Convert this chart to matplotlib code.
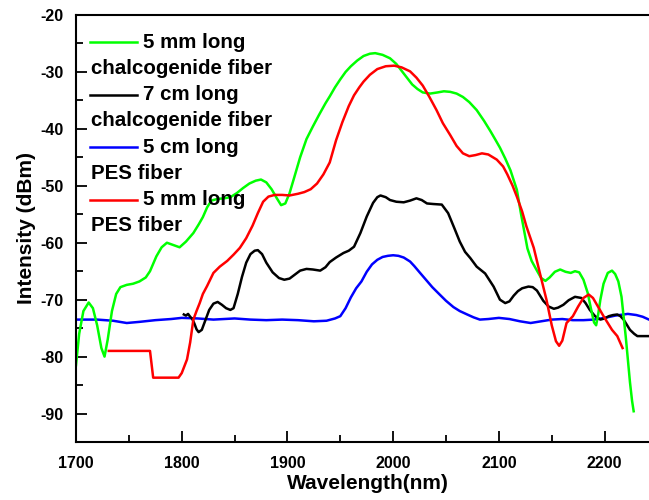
import matplotlib
matplotlib.use("Agg")
import matplotlib.pyplot as plt

# 5 mm long chalcogenide fiber (green)
wl_green = [1700, 1703, 1707, 1712, 1716, 1720, 1724, 1727, 1730, 1734, 1738, 1742,
            1748, 1754, 1760, 1766, 1770, 1776, 1781, 1786, 1792, 1798, 1804, 1811,
            1816, 1820, 1824, 1828, 1834, 1840, 1846, 1852, 1858, 1864, 1870, 1875,
            1880, 1885, 1890, 1894, 1898, 1902, 1906, 1912, 1918, 1924, 1930, 1936,
            1940, 1945, 1950, 1955, 1960, 1966, 1972, 1978, 1983, 1990, 1997, 2003,
            2008, 2013, 2018, 2023, 2028, 2035, 2042, 2048, 2054, 2060, 2066, 2072,
            2079, 2086, 2092, 2097, 2101, 2106, 2111, 2117, 2121, 2124, 2127, 2131,
            2136, 2140, 2144, 2148, 2153, 2158, 2163, 2168, 2172, 2176, 2180, 2184,
            2187, 2190, 2192, 2194, 2196, 2199, 2203, 2207, 2210, 2213, 2216, 2218,
            2220, 2222, 2224, 2226, 2227.5]
int_green = [-81.5, -76, -72, -70.5, -71.5, -74.5, -78.5, -80, -77, -72, -69, -67.8,
             -67.4, -67.2, -66.8, -66.1, -65, -62.4, -60.8, -60, -60.4, -60.8, -59.8, -58.3,
             -56.8, -55.5, -53.8, -52.6, -52.3, -52.2, -52, -51.3, -50.4, -49.6, -49.1, -48.9,
             -49.4, -50.6, -52.2, -53.4, -53.1, -51.3, -48.8, -45, -41.8, -39.6, -37.5, -35.5,
             -34.3, -32.7, -31.3, -30, -29, -28, -27.2, -26.8, -26.7, -27, -27.6, -28.6,
             -29.8, -31, -32.2, -33, -33.6, -33.8, -33.6, -33.4, -33.5, -33.8, -34.4, -35.3,
             -36.7, -38.6, -40.4, -42, -43.3, -45.2, -47.3, -50.7, -55, -58, -61, -63.2,
             -64.9, -66.2, -66.7, -66.1, -65.1, -64.7, -65.1, -65.3, -65, -65.2, -66.5, -68.8,
             -71.5, -74, -74.5, -72.5, -70, -67.2, -65.3, -64.9, -65.5, -66.8, -69.5, -73,
             -76.5, -80.5, -84.5, -87.8, -89.6]

# 7 cm long chalcogenide fiber (black)
wl_black = [1802, 1804, 1806, 1808, 1810, 1812, 1814, 1816, 1819, 1822, 1826, 1830,
            1834, 1838, 1842, 1846, 1849, 1853, 1857, 1861, 1865, 1869, 1872, 1876,
            1880, 1886, 1892, 1897, 1902, 1907, 1912, 1918, 1924, 1931, 1936, 1940,
            1946, 1953, 1958, 1963, 1969, 1975, 1981, 1985, 1988, 1993, 1997, 2003,
            2010, 2016, 2022, 2027, 2032, 2038, 2046, 2052, 2058, 2063, 2068, 2073,
            2079, 2087, 2095, 2101, 2106, 2110, 2114, 2118, 2122, 2128, 2132, 2136,
            2142, 2147, 2152, 2156, 2161, 2166, 2172, 2178, 2182, 2186, 2191, 2196,
            2200, 2204, 2208, 2212, 2215, 2218, 2221, 2224, 2228, 2231, 2234, 2238,
            2242]
int_black = [-72.6, -72.8, -72.5, -73, -73.4, -74.2, -75.2, -75.7, -75.3, -73.8, -71.8, -70.7,
             -70.4, -70.9, -71.5, -71.8, -71.5, -69, -66, -63.5, -62, -61.4, -61.3, -62,
             -63.5, -65.2, -66.2, -66.5, -66.3, -65.6, -64.9, -64.6, -64.7, -64.9, -64.3, -63.4,
             -62.6, -61.8, -61.4, -60.7, -58.3, -55.4, -53, -52, -51.7, -52, -52.5, -52.8,
             -52.9, -52.6, -52.2, -52.5, -53.1, -53.2, -53.3, -54.8, -57.5, -59.8, -61.6, -62.7,
             -64.2, -65.4, -67.7, -70, -70.6, -70.3, -69.3, -68.5, -68, -67.7, -67.8, -68.4,
             -70.2, -71.2, -71.6, -71.4, -70.9, -70.1, -69.5, -69.7, -70.6, -71.8, -72.9, -73.5,
             -73.3, -72.9, -72.7, -72.6, -72.9, -73.5, -74.4, -75.3, -76, -76.4, -76.4, -76.4,
             -76.4]

# 5 cm long PES fiber (blue)
wl_blue = [1700, 1720, 1735, 1748, 1760, 1775, 1790, 1800, 1815, 1830, 1850, 1865,
           1880, 1895, 1910, 1925, 1937, 1945, 1950, 1955, 1960, 1965, 1970, 1975,
           1980, 1985, 1990, 1995, 2000, 2005, 2010, 2016, 2020, 2025, 2031, 2037,
           2044, 2050, 2057, 2063, 2070, 2076, 2082, 2090, 2100, 2110, 2120, 2130,
           2140, 2150, 2160, 2170, 2180, 2190, 2200, 2210, 2222, 2230, 2236, 2242]
int_blue = [-73.5, -73.5, -73.7, -74.1, -73.9, -73.6, -73.4, -73.2, -73.3, -73.5, -73.3, -73.5,
            -73.6, -73.5, -73.6, -73.8, -73.7, -73.3, -72.9, -71.5, -69.6, -68, -66.8, -65.1,
            -63.8, -63, -62.5, -62.3, -62.2, -62.3, -62.6, -63.3, -64.1, -65.2, -66.5, -67.8,
            -69.1, -70.2, -71.3, -72, -72.6, -73.1, -73.5, -73.4, -73.2, -73.4, -73.8, -74.1,
            -73.8, -73.5, -73.4, -73.6, -73.6, -73.5, -73.2, -72.8, -72.5, -72.7, -73, -73.5]

# 5 mm long PES fiber (red)
wl_red = [1731, 1770, 1773, 1797, 1800, 1805, 1808, 1811, 1814, 1817, 1820, 1824,
          1830, 1836, 1843, 1849, 1855, 1861, 1867, 1872, 1877, 1882, 1888, 1895,
          1902, 1910, 1916, 1922, 1928, 1934, 1940, 1946, 1952, 1958, 1963, 1968,
          1972, 1978, 1985, 1993, 2001, 2008, 2016, 2022, 2028, 2034, 2041, 2047,
          2054, 2060, 2066, 2072, 2078, 2084, 2090, 2098, 2104, 2108, 2113, 2117,
          2122, 2126, 2133, 2139, 2145, 2150, 2154, 2157, 2160, 2164, 2170, 2175,
          2180, 2185, 2189, 2194, 2199, 2207, 2212, 2217]
int_red = [-79, -79, -83.7, -83.7, -82.9, -80.5, -77.5, -73.5, -72, -70.6, -69, -67.6,
           -65.3, -64.2, -63.2, -62.1, -60.9, -59.2, -57, -54.8, -52.8, -51.9, -51.6, -51.6,
           -51.7, -51.4, -51.1, -50.6, -49.6, -48, -45.9, -42, -38.8, -36, -34.1, -32.7,
           -31.7, -30.5, -29.5, -29, -28.9, -29.2, -29.9, -31, -32.4, -34.3, -36.7, -39,
           -41.1, -43, -44.3, -44.8, -44.6, -44.3, -44.5, -45.4, -46.6, -48, -50, -51.9,
           -54.5, -57.1, -60.9, -65.5, -70, -74.5, -77.3, -78.1, -77.2, -74.1, -72.9, -71.2,
           -69.7, -69.1, -69.7, -71.3, -72.9, -75.3, -76.4, -78.5]

legend_lines = [("5 mm long", "chalcogenide fiber", "#00ff00"),
                ("7 cm long", "chalcogenide fiber", "black"),
                ("5 cm long", "PES fiber", "#0000ff"),
                ("5 mm long", "PES fiber", "#ff0000")]

plt.rcParams['font.family'] = ['Liberation Sans', 'DejaVu Sans']
plt.rcParams['font.weight'] = 'bold'
plt.rcParams['axes.unicode_minus'] = False

fig = plt.figure(figsize=(6.49, 5), dpi=100)
ax = fig.add_axes([76 / 649, 58 / 500, 573 / 649, 427 / 500])

ax.plot(wl_blue, int_blue, color="#0000ff", lw=1.8)
ax.plot(wl_black, int_black, color="black", lw=1.8)
ax.plot(wl_green, int_green, color="#00ff00", lw=1.8)
ax.plot(wl_red, int_red, color="#ff0000", lw=1.8)

ax.set_xlim(1700, 2242)
ax.set_ylim(-95, -20)
ax.set_xticks([1700, 1800, 1900, 2000, 2100, 2200])
ax.set_xticks(range(1750, 2242, 100), minor=True)
ax.set_yticks(range(-90, -19, 10))
ax.set_yticks(range(-95, -20, 10), minor=True)
ax.tick_params(which='both', direction='in', width=1.3, labelsize=11.5)
ax.tick_params(which='major', length=8)
ax.tick_params(which='minor', length=5)
ax.tick_params(axis='x', pad=10)
ax.tick_params(axis='y', pad=9)
for lab in ax.get_xticklabels() + ax.get_yticklabels():
    lab.set_fontweight('bold')

ax.spines['right'].set_visible(False)
for s in ['left', 'top', 'bottom']:
    ax.spines[s].set_linewidth(1.5)

ax.set_xlabel("Wavelength(nm)", fontsize=15, fontweight='bold')
ax.set_ylabel("Intensity (dBm)", fontsize=15, fontweight='bold')
ax.xaxis.set_label_coords(0.509, -0.075)
ax.yaxis.set_label_coords(-0.07, 0.5)

# legend drawn by hand: line + first text line, second line starts under the line
row_h = 26.2 / 427
y0 = 0.936
for i, (first, second, col) in enumerate(legend_lines):
    y1 = y0 - 2 * i * row_h
    y2 = y1 - row_h
    ax.plot([0.0244, 0.1065], [y1, y1], color=col, lw=1.8, transform=ax.transAxes)
    ax.text(0.117, y1, first, transform=ax.transAxes, fontsize=14.8,
            fontweight='bold', va='center', ha='left')
    ax.text(0.0257, y2, second, transform=ax.transAxes, fontsize=14.8,
            fontweight='bold', va='center', ha='left')

fig.savefig("out.png", dpi=100)
